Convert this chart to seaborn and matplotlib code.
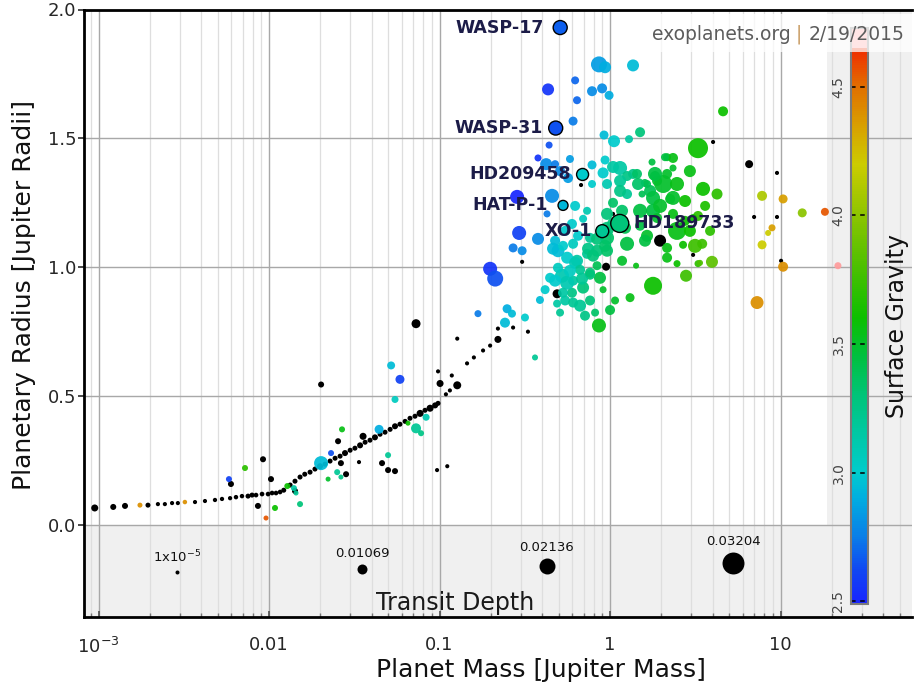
import numpy as np
import pandas as pd
import matplotlib
matplotlib.use("Agg")
import matplotlib.pyplot as plt
import matplotlib.colors as mcolors
import matplotlib.transforms as mtransforms
import matplotlib.ticker as mticker
from matplotlib.patches import Rectangle
import seaborn as sns

# ---------------------------------------------------------------------------
# Planets with a surface gravity value (mass [M_J], radius [R_J], log g, depth)
# ---------------------------------------------------------------------------
mass = [
    0.861, 0.935, 1.364, 0.433, 0.624, 0.784, 0.898, 0.987, 0.640, 0.607,
    0.922, 1.055, 1.292, 1.500, 0.439, 0.378, 0.422, 0.476, 0.582, 0.509,
    0.567, 0.784, 0.935, 0.910, 1.145, 1.364, 1.763, 1.648, 1.887, 0.285,
    0.457, 0.784, 0.960, 1.258, 4.60, 3.28, 2.16, 2.34, 2.34, 1.835,
    2.05, 2.47, 1.60, 1.717, 2.34, 3.51, 4.24, 7.79, 10.35, 13.4,
    18.2, 8.91, 8.45, 7.79, 3.28, 2.16, 2.47, 2.68, 3.15, 3.47,
    3.28, 3.96, 10.35, 21.7, 1.787, 2.79, 7.28, 1.041, 1.258, 1.145,
    1.145, 1.439, 1.459, 1.835, 2.16, 2.10, 1.541, 1.787, 2.25, 1.787,
    2.34, 3.07, 2.75, 1.887, 2.47, 2.16, 3.37, 1.310, 0.861, 1.176,
    1.421, 1.258, 0.873, 0.910, 0.695, 0.598, 0.445, 0.523, 0.607, 0.640,
    0.495, 0.733, 0.839, 0.960, 0.763, 0.960, 1.041, 1.176, 0.476, 0.545,
    0.598, 0.695, 0.733, 0.293, 0.378, 0.270, 0.305, 0.198, 0.212, 0.427,
    0.489, 0.509, 0.249, 0.266, 0.242, 0.317, 0.168, 0.495, 0.560, 0.607,
    0.649, 0.624, 0.560, 0.624, 0.530, 0.743, 0.839, 0.935, 0.839, 0.960,
    1.041, 1.500, 0.363, 0.052, 0.0586, 0.0548, 0.0834, 0.0728, 0.0779, 0.0653,
    0.0442, 0.0268, 0.0202, 0.0231, 0.0499, 0.0251, 0.0264, 0.0222, 0.00723, 0.00582,
    0.01084, 0.0096, 0.0128, 0.0140, 0.0144, 0.0152, 0.00175, 0.00321, 0.545, 0.667,
    0.763, 0.667, 0.763, 0.416, 0.388, 1.07, 1.00, 0.463, 0.530, 0.582,
    0.476, 0.607, 0.685, 0.763, 0.795, 0.960, 1.224, 1.648, 2.94, 3.61,
    2.94, 3.86, 1.604, 1.500, 1.965, 2.754, 0.713, 0.817,
]
radius = [
    1.787, 1.776, 1.783, 1.690, 1.725, 1.683, 1.694, 1.667, 1.648, 1.567,
    1.513, 1.489, 1.497, 1.524, 1.474, 1.424, 1.400, 1.400, 1.420, 1.373,
    1.346, 1.397, 1.416, 1.366, 1.385, 1.362, 1.408, 1.323, 1.335, 1.273,
    1.277, 1.323, 1.323, 1.284, 1.605, 1.462, 1.427, 1.424, 1.385, 1.354,
    1.323, 1.323, 1.327, 1.296, 1.269, 1.304, 1.284, 1.277, 1.265, 1.211,
    1.215, 1.153, 1.133, 1.087, 1.199, 1.037, 1.014, 1.087, 1.083, 1.091,
    1.014, 1.021, 1.002, 1.006, 0.928, 0.967, 0.863, 1.389, 1.354, 1.335,
    1.296, 1.362, 1.323, 1.362, 1.362, 1.427, 1.284, 1.269, 1.265, 1.219,
    1.207, 1.191, 1.180, 1.191, 1.141, 1.075, 1.017, 0.882, 0.774, 1.025,
    1.006, 1.091, 0.959, 0.913, 0.921, 0.901, 0.959, 0.967, 0.948, 1.025,
    0.998, 1.052, 1.064, 1.064, 1.114, 1.114, 1.168, 1.219, 1.103, 1.141,
    1.168, 1.188, 1.219, 1.133, 1.110, 1.075, 1.064, 0.994, 0.956, 1.207,
    0.859, 0.824, 0.839, 0.820, 0.785, 0.805, 0.820, 1.064, 1.037, 1.091,
    1.122, 1.238, 0.940, 1.017, 0.901, 1.072, 1.110, 1.083, 1.006, 1.207,
    1.250, 1.219, 0.650, 0.619, 0.565, 0.487, 0.418, 0.375, 0.356, 0.395,
    0.371, 0.371, 0.240, 0.279, 0.271, 0.205, 0.186, 0.178, 0.221, 0.178,
    0.066, 0.027, 0.151, 0.143, 0.124, 0.081, 0.077, 0.089, 0.871, 0.851,
    0.871, 0.990, 0.971, 0.913, 0.873, 0.871, 0.834, 1.072, 1.083, 0.986,
    0.948, 0.863, 0.956, 0.979, 1.045, 1.149, 1.153, 1.122, 1.373, 1.238,
    1.141, 1.141, 1.103, 1.161, 1.238, 1.257, 0.812, 0.824,
]
logg = [
    2.85, 2.90, 2.95, 2.55, 2.70, 2.80, 2.80, 2.90, 2.70, 2.75,
    2.95, 3.00, 3.15, 3.30, 2.65, 2.55, 2.80, 2.75, 2.85, 2.80,
    2.85, 2.95, 3.00, 3.00, 3.15, 3.25, 3.45, 3.40, 3.50, 2.50,
    2.80, 3.00, 3.10, 3.20, 3.60, 3.60, 3.50, 3.55, 3.50, 3.40,
    3.50, 3.55, 3.40, 3.40, 3.50, 3.60, 3.70, 4.10, 4.35, 4.00,
    4.55, 4.35, 4.20, 4.20, 3.70, 3.55, 3.60, 3.60, 3.75, 3.75,
    3.70, 3.85, 4.40, 4.80, 3.60, 3.75, 4.40, 3.15, 3.25, 3.20,
    3.25, 3.35, 3.35, 3.45, 3.50, 3.45, 3.40, 3.45, 3.50, 3.45,
    3.55, 3.60, 3.60, 3.50, 3.55, 3.55, 3.80, 3.55, 3.55, 3.50,
    3.55, 3.45, 3.45, 3.50, 3.30, 3.25, 3.00, 3.10, 3.15, 3.15,
    3.05, 3.20, 3.30, 3.35, 3.20, 3.35, 3.30, 3.35, 2.95, 3.00,
    3.00, 3.05, 3.10, 2.60, 2.80, 2.75, 2.80, 2.55, 2.65, 2.75,
    3.15, 3.20, 2.90, 2.95, 2.95, 3.00, 2.75, 2.95, 3.00, 3.05,
    3.00, 3.00, 3.10, 3.10, 3.15, 3.25, 3.30, 3.35, 3.40, 3.30,
    3.35, 3.45, 3.20, 2.95, 2.60, 3.05, 3.10, 3.20, 3.25, 3.60,
    2.90, 3.55, 2.95, 2.65, 3.20, 3.20, 3.25, 3.50, 3.70, 2.60,
    3.60, 4.55, 3.60, 3.15, 3.20, 3.30, 4.40, 4.40, 3.15, 3.20,
    3.30, 3.20, 3.30, 3.00, 2.95, 3.50, 3.45, 2.95, 3.00, 3.05,
    3.00, 3.20, 3.20, 3.30, 3.30, 3.30, 3.40, 3.50, 3.55, 3.65,
    3.60, 3.70, 3.45, 3.45, 3.50, 3.60, 3.25, 3.35,
]
depth = [
    0.0214, 0.0143, 0.0143, 0.0143, 0.0071, 0.0107, 0.0107, 0.0089, 0.0071, 0.0089,
    0.0089, 0.0143, 0.0071, 0.0107, 0.0054, 0.0054, 0.0143, 0.0071, 0.0071, 0.0107,
    0.0107, 0.0089, 0.0089, 0.0125, 0.0179, 0.0107, 0.0054, 0.0071, 0.0107, 0.0179,
    0.0179, 0.0071, 0.0107, 0.0107, 0.0107, 0.0286, 0.0071, 0.0107, 0.0054, 0.0107,
    0.0250, 0.0179, 0.0071, 0.0143, 0.0179, 0.0179, 0.0125, 0.0107, 0.0089, 0.0089,
    0.0071, 0.0054, 0.0036, 0.0089, 0.0107, 0.0107, 0.0054, 0.0071, 0.0179, 0.0107,
    0.0054, 0.0143, 0.0107, 0.0054, 0.0250, 0.0143, 0.0160, 0.0143, 0.0107, 0.0143,
    0.0143, 0.0107, 0.0143, 0.0179, 0.0107, 0.0071, 0.0054, 0.0179, 0.0107, 0.0179,
    0.0107, 0.0071, 0.0107, 0.0107, 0.0250, 0.0107, 0.0036, 0.0089, 0.0179, 0.0107,
    0.0036, 0.0179, 0.0143, 0.0054, 0.0143, 0.0107, 0.0107, 0.0179, 0.0107, 0.0143,
    0.0107, 0.0107, 0.0143, 0.0143, 0.0107, 0.0179, 0.0143, 0.0143, 0.0107, 0.0107,
    0.0107, 0.0071, 0.0071, 0.0179, 0.0143, 0.0089, 0.0089, 0.0179, 0.0214, 0.0054,
    0.0071, 0.0071, 0.0089, 0.0071, 0.0107, 0.0071, 0.0054, 0.0160, 0.0143, 0.0107,
    0.0107, 0.0107, 0.0179, 0.0143, 0.0107, 0.0143, 0.0143, 0.0143, 0.0089, 0.0143,
    0.0107, 0.0179, 0.0036, 0.0071, 0.0089, 0.0054, 0.0054, 0.0107, 0.0036, 0.0018,
    0.0089, 0.0036, 0.0179, 0.0036, 0.0036, 0.0036, 0.0018, 0.0018, 0.0036, 0.0036,
    0.0036, 0.0018, 0.0036, 0.0036, 0.0018, 0.0036, 0.0018, 0.0009, 0.0107, 0.0143,
    0.0107, 0.0107, 0.0107, 0.0089, 0.0071, 0.0071, 0.0107, 0.0143, 0.0107, 0.0143,
    0.0143, 0.0107, 0.0143, 0.0107, 0.0143, 0.0179, 0.0143, 0.0143, 0.0143, 0.0107,
    0.0143, 0.0107, 0.0143, 0.0107, 0.0179, 0.0143, 0.0107, 0.0071,
]

# ---------------------------------------------------------------------------
# Planets without a surface gravity value (drawn in black)
# ---------------------------------------------------------------------------
nog_mass = [
    6.54, 1.965, 0.948, 0.489, 0.220, 0.0728, 0.0202, 0.127, 0.1007, 0.0356,
    0.0254, 0.0460, 0.0499, 0.0548, 0.0264, 0.0283, 0.00922, 0.00598, 0.01027, 0.00861,
    0.0142,
    4.02, 9.53, 6.995, 9.53, 10.07, 3.07, 0.305, 0.676, 1.041, 0.0967,
    0.111, 0.127, 0.159, 0.145, 0.118, 0.098, 0.109, 0.115, 0.198, 0.180,
    0.220, 0.270, 0.330, 0.0337,
]
nog_radius = [
    1.400, 1.103, 1.002, 0.897, 0.720, 0.781, 0.545, 0.542, 0.549, 0.344,
    0.325, 0.240, 0.213, 0.209, 0.240, 0.197, 0.255, 0.159, 0.178, 0.074,
    0.132,
    1.486, 1.366, 1.195, 1.195, 1.025, 1.048, 1.021, 1.319, 1.207, 0.213,
    0.228, 0.723, 0.650, 0.627, 0.580, 0.596, 0.507, 0.522, 0.696, 0.677,
    0.762, 0.766, 0.750, 0.244,
]
nog_depth = [
    0.0071, 0.0143, 0.0071, 0.0089, 0.0054, 0.0089, 0.0036, 0.0071, 0.0054, 0.0054,
    0.0036, 0.0036, 0.0036, 0.0036, 0.0036, 0.0036, 0.0036, 0.0036, 0.0036, 0.0036,
    0.0036,
    0.0002, 0.0002, 0.0002, 0.0002, 0.0002, 0.0002, 0.0002, 0.0002, 0.0002, 0.0002,
    0.0002, 0.0002, 0.0002, 0.0002, 0.0002, 0.0002, 0.0002, 0.0002, 0.0002, 0.0002,
    0.0002, 0.0002, 0.0002, 0.0002,
]

# Kepler candidates with masses estimated from their radii
kep_mass = [
    0.00095, 0.00122, 0.00143, 0.00195, 0.00223, 0.00245, 0.00270, 0.00292, 0.00368, 0.00421,
    0.00482, 0.00530, 0.00591, 0.00640, 0.00694, 0.00753, 0.00795, 0.00839, 0.00910, 0.00987,
    0.01042, 0.01099, 0.01161, 0.0122,
    0.0133, 0.0142, 0.0152, 0.0162, 0.0174, 0.0186, 0.0199, 0.0213, 0.0228, 0.0244,
    0.0261, 0.0279, 0.0299, 0.0319, 0.0342, 0.0366, 0.0391, 0.0418, 0.0448, 0.0479,
    0.0513, 0.0548, 0.0586, 0.0628, 0.0671, 0.0718, 0.0769, 0.0822, 0.0880, 0.0942,
    0.098,
]
kep_radius = [
    0.066, 0.070, 0.074, 0.077, 0.081, 0.081, 0.085, 0.085, 0.089, 0.093,
    0.097, 0.101, 0.104, 0.108, 0.112, 0.112, 0.116, 0.116, 0.120, 0.120,
    0.124, 0.124, 0.128, 0.135,
    0.155, 0.170, 0.186, 0.197, 0.205, 0.217, 0.228, 0.236, 0.248, 0.259,
    0.267, 0.279, 0.290, 0.298, 0.309, 0.321, 0.329, 0.340, 0.352, 0.360,
    0.371, 0.383, 0.391, 0.402, 0.414, 0.422, 0.433, 0.445, 0.453, 0.464,
    0.472,
]
kep_depth = [
    0.0054, 0.0036, 0.0036, 0.0018, 0.0003, 0.0003, 0.0003, 0.0003, 0.0003, 0.0003,
    0.0005, 0.0005, 0.0005, 0.0008, 0.0008, 0.0018, 0.0018, 0.0012, 0.0012, 0.0012,
    0.0012, 0.0012, 0.0012, 0.0018,
    0.0018, 0.0018, 0.0018, 0.0018, 0.0018, 0.0018, 0.0036, 0.0018, 0.0018, 0.0018,
    0.0018, 0.0036, 0.0018, 0.0018, 0.0036, 0.0018, 0.0018, 0.0036, 0.0018, 0.0018,
    0.0018, 0.0036, 0.0018, 0.0018, 0.0018, 0.0018, 0.0054, 0.0018, 0.0054, 0.0036,
    0.0018,
]

# Named planets
hl_names = ["WASP-17", "WASP-31", "HD209458", "HAT-P-1", "XO-1", "HD189733"]
hl_mass = [0.51, 0.48, 0.69, 0.53, 0.90, 1.14]
hl_radius = [1.93, 1.54, 1.36, 1.24, 1.14, 1.17]
hl_logg = [2.68, 2.65, 3.00, 2.93, 3.20, 3.30]
hl_depth = [0.0179, 0.0179, 0.0143, 0.0107, 0.0160, 0.0250]

# Transit depth key
key_depths = [1e-5, 0.01069, 0.02136, 0.03204]
key_labels = ["1x10$^{-5}$", "0.01069", "0.02136", "0.03204"]

x_ticks = [1e-3, 0.01, 0.1, 1, 10]
x_ticklabels = ["$10^{-3}$", "0.01", "0.1", "1", "10"]
y_ticks = [0.0, 0.5, 1.0, 1.5, 2.0]
cbar_ticks = [2.5, 3.0, 3.5, 4.0, 4.5]

# ---------------------------------------------------------------------------
sns.set_theme(style="white")
plt.rcParams["font.family"] = ["DejaVu Sans"]

DPI = 100


def marker_area(d):
    """Marker area in pt^2; the marker diameter grows linearly with transit depth."""
    diam_px = 4.0 + 560.0 * np.asarray(d, dtype=float)
    return (diam_px * 72.0 / DPI) ** 2


def marker_diam_pt(d):
    return (4.0 + 560.0 * d) * 72.0 / DPI


G_MIN, G_MAX = 2.49, 4.65
stops = [
    (2.49, "#1824ff"), (2.62, "#1048f2"), (2.75, "#0a7ee8"), (2.90, "#00aee0"),
    (3.00, "#00cccc"), (3.15, "#00c8a4"), (3.30, "#00c478"), (3.45, "#00c040"),
    (3.60, "#0cc000"), (3.80, "#4cc000"), (4.00, "#8cc400"), (4.20, "#cccc00"),
    (4.35, "#d8a000"), (4.50, "#e07000"), (4.65, "#f02c00"),
]
gravity_cmap = mcolors.LinearSegmentedColormap.from_list(
    "gravity", [((v - G_MIN) / (G_MAX - G_MIN), c) for v, c in stops])
gravity_cmap.set_over("#ff9c9c")
gnorm = mcolors.Normalize(G_MIN, G_MAX)

df_g = pd.DataFrame({"mass": mass, "radius": radius, "logg": logg, "depth": depth})
df_n = pd.DataFrame({"mass": nog_mass + kep_mass, "radius": nog_radius + kep_radius,
                     "depth": nog_depth + kep_depth})
df_h = pd.DataFrame({"mass": hl_mass, "radius": hl_radius, "logg": hl_logg,
                     "depth": hl_depth, "name": hl_names})
for d in (df_g, df_n, df_h):
    d["area"] = marker_area(d["depth"])

A_LO, A_HI = float(marker_area(0.0)), float(marker_area(0.04))

fig = plt.figure(figsize=(9.14, 6.93), dpi=DPI)
AX_RECT = [84 / 914, 76 / 693, 828 / 914, 607.5 / 693]
ax = fig.add_axes(AX_RECT)
ax.set_xscale("log")

# background panels
ax.set_axisbelow(True)
ax.axhspan(-1.0, 0.0, facecolor="#f0f0f0", lw=0, zorder=0.1)
ax.add_patch(Rectangle((0.897, 0.0), 0.103, 1.0, transform=ax.transAxes,
                       facecolor="#f0f0f0", lw=0, zorder=0.1))

sns.scatterplot(data=df_n, x="mass", y="radius", size="area", sizes=(A_LO, A_HI),
                size_norm=(A_LO, A_HI), color="black", linewidth=0, legend=False,
                ax=ax, zorder=3)
sns.scatterplot(data=df_g, x="mass", y="radius", hue="logg", palette=gravity_cmap,
                hue_norm=gnorm, size="area", sizes=(A_LO, A_HI), size_norm=(A_LO, A_HI),
                linewidth=0, alpha=0.93, legend=False, ax=ax, zorder=4)
sns.scatterplot(data=df_h, x="mass", y="radius", hue="logg", palette=gravity_cmap,
                hue_norm=gnorm, size="area", sizes=(A_LO, A_HI), size_norm=(A_LO, A_HI),
                edgecolor="black", linewidth=1.0, legend=False, ax=ax, zorder=5)

label_offsets = [(-11.5, 0), (-9.4, 0), (-8.6, 0), (-10.8, 0), (-7.2, 0), (10.0, 0)]
for (_, row), off in zip(df_h.iterrows(), label_offsets):
    ax.annotate(row["name"], xy=(row["mass"], row["radius"]), xytext=off,
                textcoords="offset points", ha="right" if off[0] < 0 else "left",
                va="center", fontsize=12.5, fontweight="bold", color="#1c1c48", zorder=6)

# transit depth key
blend = mtransforms.blended_transform_factory(ax.transAxes, ax.transData)
key_x = [0.112, 0.336, 0.559, 0.784]
key_base = -0.19
for xf, dep, lab in zip(key_x, key_depths, key_labels):
    dpt = marker_diam_pt(dep)
    tr = mtransforms.offset_copy(blend, fig=fig, x=0, y=dpt / 2, units="points")
    ax.scatter([xf], [key_base], s=marker_area(dep), color="black", linewidths=0,
               transform=tr, zorder=5, clip_on=False)
    ax.annotate(lab, xy=(xf, key_base), xycoords=blend, xytext=(0, dpt + 3),
                textcoords="offset points", ha="center", va="bottom", fontsize=9.5,
                color="#111111")
ax.text(0.448, 0.023, "Transit Depth", transform=ax.transAxes, ha="center",
        va="center", fontsize=17, color="#1a1a1a")

# axes, ticks, grid
ax.set_xlim(0.000822, 59)
ax.set_ylim(-0.357, 2.0)
ax.xaxis.set_major_locator(mticker.FixedLocator(x_ticks))
ax.xaxis.set_major_formatter(mticker.FixedFormatter(x_ticklabels))
ax.xaxis.set_minor_locator(mticker.LogLocator(base=10, subs=np.arange(2, 10)))
ax.xaxis.set_minor_formatter(mticker.NullFormatter())
ax.set_yticks(y_ticks)
ax.yaxis.set_major_formatter(mticker.FormatStrFormatter("%.1f"))
ax.grid(which="major", axis="both", color="#a8a8a8", lw=1.0)
ax.grid(which="minor", axis="x", color="#dedede", lw=0.9)
ax.tick_params(axis="x", which="major", direction="in", length=4, color="#555555",
               labelsize=13, pad=14, bottom=True)
ax.tick_params(axis="x", which="minor", direction="in", length=3, color="#777777",
               bottom=True)
ax.tick_params(axis="y", which="major", direction="out", length=4, color="#333333",
               labelsize=13, pad=1.5, left=True)
for side in ("left", "top", "bottom"):
    ax.spines[side].set_color("black")
    ax.spines[side].set_linewidth(2.0)
ax.spines["right"].set_visible(False)

ax.set_xlabel("Planet Mass [Jupiter Mass]", fontsize=18, color="#111111")
ax.set_ylabel("Planetary Radius [Jupiter Radii]", fontsize=18, color="#111111")
ax.xaxis.set_label_coords(0.552, -0.068)
ax.yaxis.set_label_coords(-0.058, 0.53)

# colour bar (the axes includes the rectangular over-range cap at the top)
cax = fig.add_axes([851 / 914, (693 - 604) / 693, 17 / 914, 576 / 693])
sm = plt.cm.ScalarMappable(norm=gnorm, cmap=gravity_cmap)
cb = fig.colorbar(sm, cax=cax, extend="max", extendrect=True, extendfrac=20 / 556,
                  ticks=cbar_ticks)
cb.outline.set_edgecolor("#7a7a7a")
cb.outline.set_linewidth(1.5)
cax.yaxis.set_ticks_position("left")
cax.tick_params(axis="y", length=0, pad=4, labelsize=10, labelcolor="#444444")
for t in cax.get_yticklabels():
    t.set_rotation(90)
    t.set_va("center")
for v in cbar_ticks:
    cax.axhline(v, color="black", lw=1.1, ls=(0, (3, 3)))
cax.yaxis.set_label_position("right")
cax.set_ylabel("Surface Gravity", fontsize=17, labelpad=12, color="#111111")

# site credit, drawn on a transparent overlay above the plot and colour bar
over = fig.add_axes(AX_RECT, zorder=10)
over.set_facecolor("none")
over.axis("off")
over.add_patch(Rectangle((0.672, 0.93), 0.328, 0.062, transform=over.transAxes,
                         facecolor="white", alpha=0.75, lw=0))
t_date = over.text(0.991, 0.959, "2/19/2015", transform=over.transAxes, ha="right",
                   va="center", fontsize=13.5, color="#5c5c5c")
t_bar = over.annotate(" | ", xy=(0, 0.5), xycoords=t_date, ha="right", va="center",
                      fontsize=13.5, color="#c89a60")
over.annotate("exoplanets.org", xy=(0, 0.5), xycoords=t_bar, ha="right", va="center",
              fontsize=13.5, color="#5c5c5c")

fig.savefig("out.png", dpi=DPI)
